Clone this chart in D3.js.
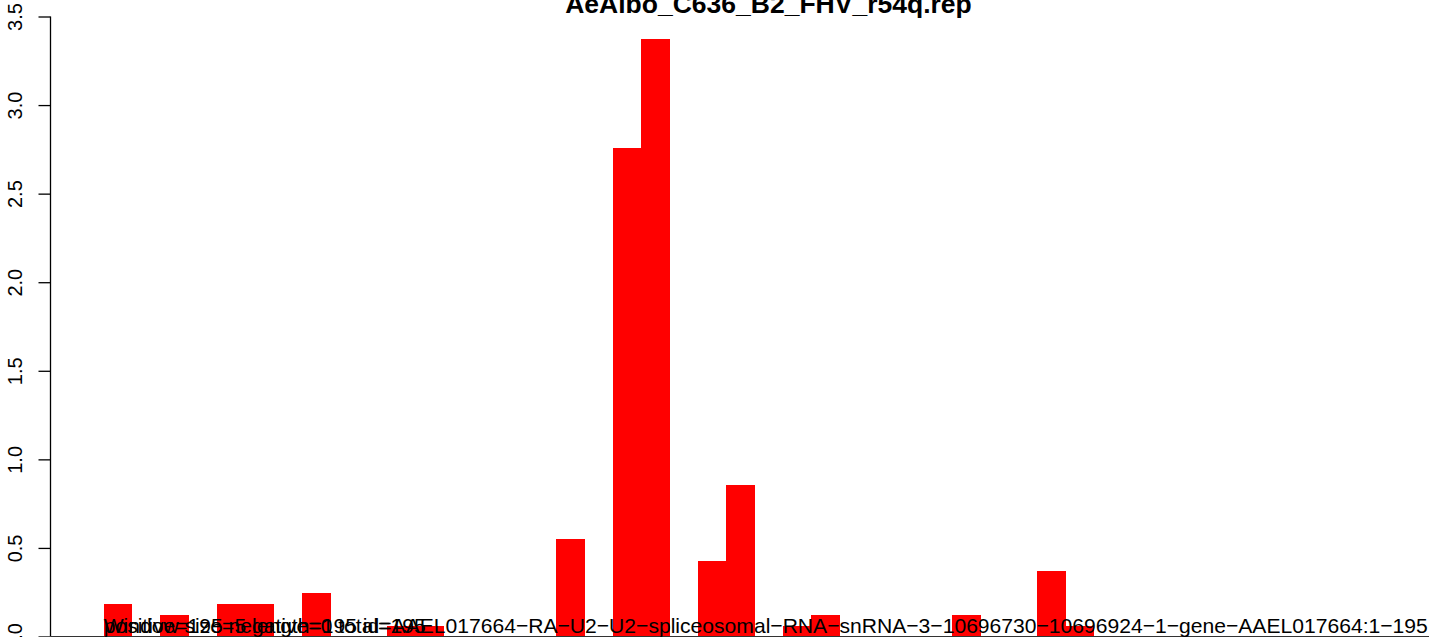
<!DOCTYPE html>
<html>
<head>
<meta charset="utf-8">
<script src="https://cdn.jsdelivr.net/npm/d3@7"></script>
<style>
  body { margin: 0; background: #fff; }
  svg { display: block; font-family: "Liberation Sans", Arial, Helvetica, sans-serif; }
</style>
</head>
<body>
<svg id="chart"></svg>
<script>
// reads per position (normalised), one bar per position
const positions = d3.range(1, 48);
const values = [
  0.184, 0, 0.123, 0, 0.184, 0.184, 0, 0.245, 0, 0,
  0.061, 0.061, 0, 0, 0, 0, 0.552, 0, 2.758, 3.371,
  0, 0.429, 0.858, 0, 0.061, 0.123, 0, 0, 0, 0,
  0.123, 0, 0, 0.368, 0.061, 0, 0, 0, 0, 0,
  0, 0, 0, 0, 0, 0, 0
];
const yTicks = [0, 0.5, 1, 1.5, 2, 2.5, 3, 3.5];
const title = "AeAlbo_C636_B2_FHV_r54q.rep";
// the labels R stacked on top of each other at the start of the bars
const bottomLabels = [
  "positive=195 negative=0 total=195",
  "Window size=5 length=195 id=AAEL017664\u2212RA\u2212U2\u2212U2\u2212spliceosomal\u2212RNA\u2212snRNA\u22123\u221210696730\u221210696924\u22121\u2212gene\u2212AAEL017664:1\u2212195"
];

const width = 1429;
const height = 637;
const plot = ({ left: 50.5, right: 1486.5, top: 16.5, bottom: 636.5 });

const n = positions.length;
const x = d3.scaleLinear()
    .domain([-0.04 * n, 1.04 * n])
    .range([plot.left, plot.right]);

const y = d3.scaleLinear()
    .domain([0, 3.5])
    .range([plot.bottom, plot.top]);

const svg = d3.select("#chart")
    .attr("width", width)
    .attr("height", height)
    .attr("viewBox", [0, 0, width, height]);

// bars
svg.append("g")
    .attr("fill", "#ff0000")
    .attr("shape-rendering", "crispEdges")
    .selectAll("rect")
    .data(values)
    .join("rect")
    .attr("x", (d, i) => x(i))
    .attr("y", d => y(d))
    .attr("width", x(1) - x(0) + 0.5)
    .attr("height", d => y(0) - y(d));

// y axis, R style: labels parallel to the axis
const yAxis = g => g
    .attr("transform", `translate(${plot.left},0)`)
    .call(d3.axisLeft(y).tickValues(yTicks).tickFormat(d3.format(".1f")).tickSize(12).tickPadding(0))
    .call(g => g.selectAll("path, line").attr("stroke", "#000").attr("stroke-width", 1.3))
    .call(g => g.select(".domain").attr("d", `M0,${y(0)}V${y(3.5)}`))
    .call(g => g.selectAll("text")
        .attr("font-size", 20)
        .attr("fill", "#000")
        .attr("text-anchor", "middle")
        .attr("dy", null)
        .attr("x", null)
        .attr("transform", "translate(-29,0) rotate(-90)"));

svg.append("g").call(yAxis);

// baseline
svg.append("line")
    .attr("x1", plot.left)
    .attr("x2", width)
    .attr("y1", y(0))
    .attr("y2", y(0))
    .attr("stroke", "#333")
    .attr("stroke-width", 1);

// overlapping labels
svg.append("g")
    .selectAll("text")
    .data(bottomLabels)
    .join("text")
    .attr("x", x(0))
    .attr("y", 633)
    .attr("font-size", 21.1)
    .attr("fill", "#000")
    .text(d => d);

// title
svg.append("text")
    .attr("x", (plot.left + plot.right) / 2)
    .attr("y", 13)
    .attr("text-anchor", "middle")
    .attr("font-size", 26.5)
    .attr("font-weight", "bold")
    .text(title);
</script>
</body>
</html>
